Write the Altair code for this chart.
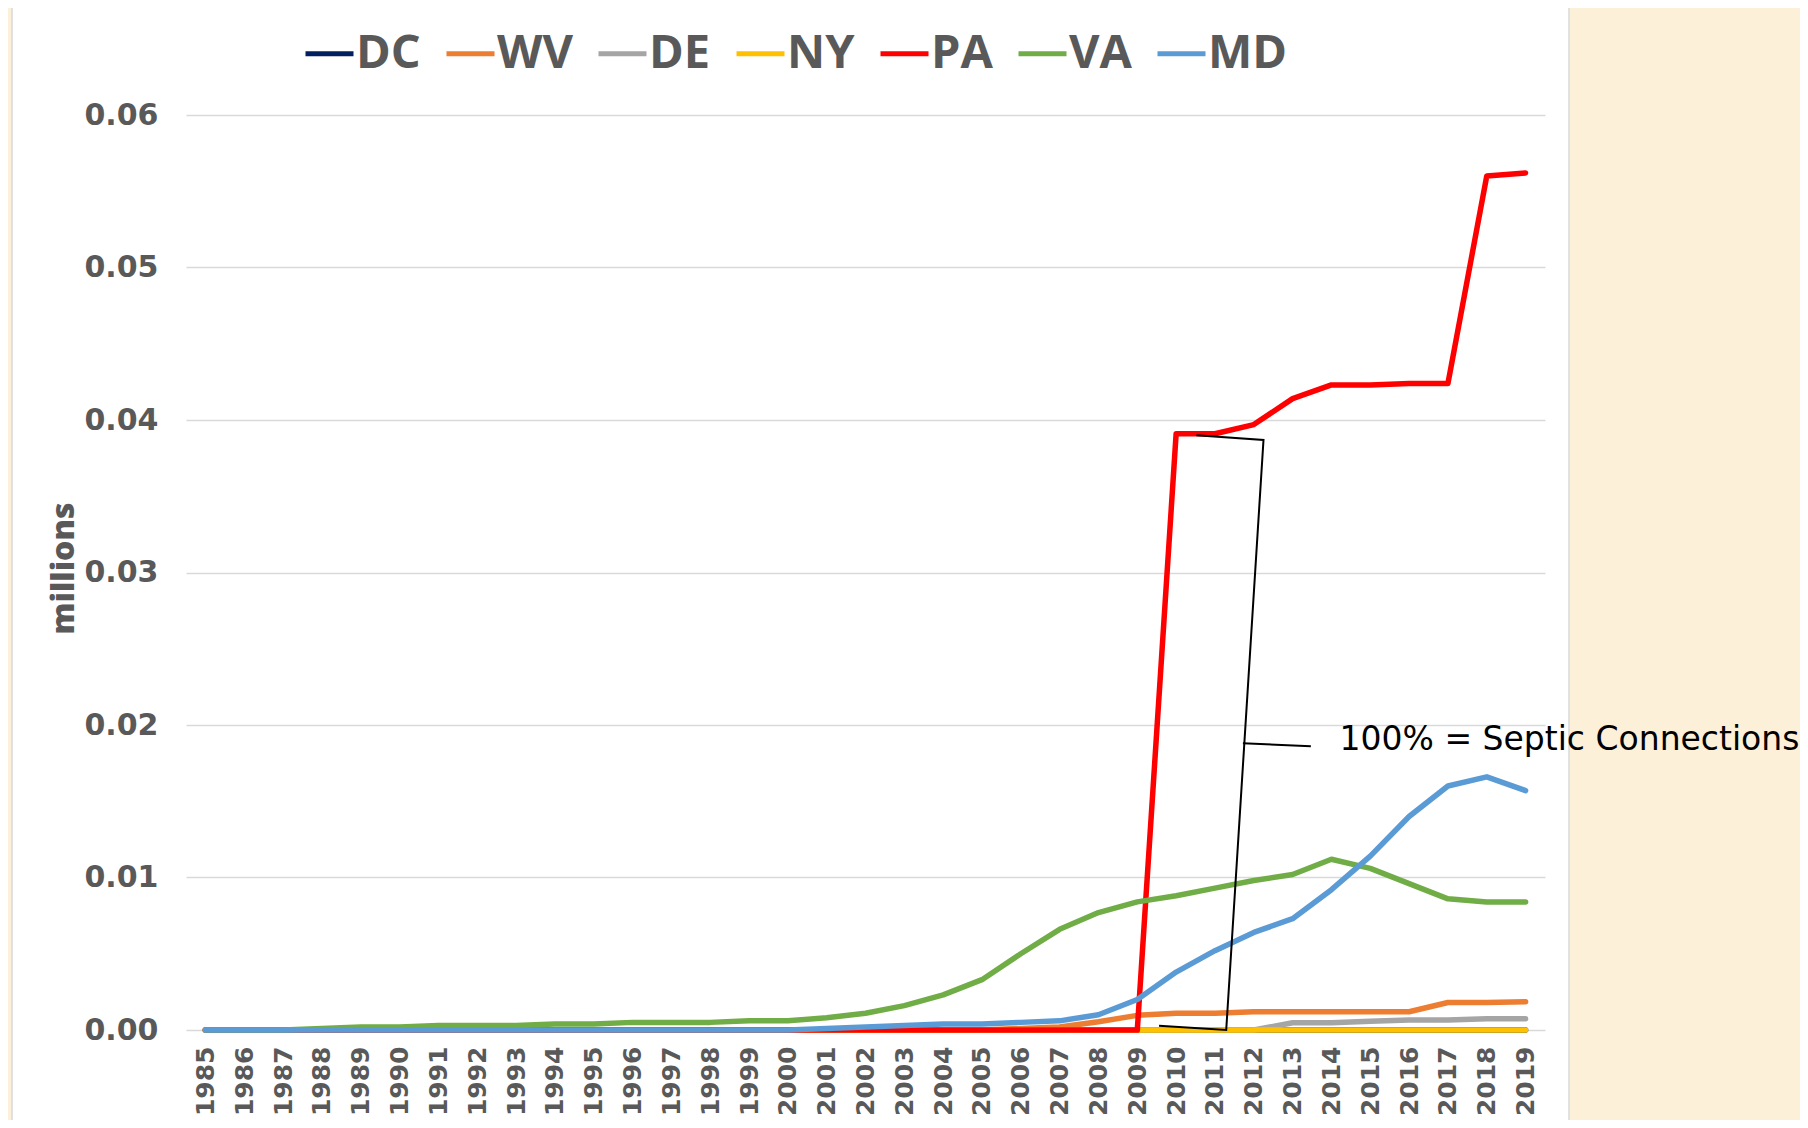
import altair as alt
import pandas as pd

# ---- data ----
years = [1985, 1986, 1987, 1988, 1989, 1990, 1991, 1992, 1993, 1994,
         1995, 1996, 1997, 1998, 1999, 2000, 2001, 2002, 2003, 2004,
         2005, 2006, 2007, 2008, 2009, 2010, 2011, 2012, 2013, 2014,
         2015, 2016, 2017, 2018, 2019]

series_names = ["DC", "WV", "DE", "NY", "PA", "VA", "MD"]
series_colors = ["#002060", "#ED7D31", "#A5A5A5", "#FFC000", "#FF0000", "#70AD47", "#5B9BD5"]

DC = [0, 0, 0, 0, 0, 0, 0, 0, 0, 0, 0, 0, 0, 0, 0, 0, 0, 0, 0, 0,
      0, 0, 0, 0, 0, 0, 0, 0, 0, 0, 0, 0, 0, 0, 0]
WV = [0, 0, 0, 0, 0, 0, 0, 0, 0, 0, 0, 0, 0, 0, 0, 0, 0, 0, 0, 0,
      0, 0.0001, 0.0002, 0.00054, 0.00096, 0.0011, 0.0011, 0.0012, 0.0012, 0.0012,
      0.0012, 0.0012, 0.0018, 0.0018, 0.00186]
DE = [0, 0, 0, 0, 0, 0, 0, 0, 0, 0, 0, 0, 0, 0, 0, 0, 0, 0, 0, 0,
      0, 0, 0, 0, 0, 0, 0, 0, 0.00048, 0.00048,
      0.00058, 0.00066, 0.00066, 0.00074, 0.00074]
NY = [0, 0, 0, 0, 0, 0, 0, 0, 0, 0, 0, 0, 0, 0, 0, 0, 0, 0, 0, 0,
      0, 0, 0, 0, 0, 0, 0, 0, 0, 0, 0, 0, 0, 0, 0]
PA = [0, 0, 0, 0, 0, 0, 0, 0, 0, 0, 0, 0, 0, 0, 0, 0, 0, 0, 0, 0,
      0, 0, 0, 0, 0, 0.0391, 0.0391, 0.0397, 0.0414, 0.0423,
      0.0423, 0.0424, 0.0424, 0.0560, 0.0562]
VA = [0, 0, 0, 0.0001, 0.0002, 0.0002, 0.0003, 0.0003, 0.0003, 0.0004,
      0.0004, 0.0005, 0.0005, 0.0005, 0.0006, 0.0006, 0.0008, 0.0011, 0.0016, 0.0023,
      0.0033, 0.0050, 0.0066, 0.0077, 0.0084, 0.0088, 0.0093, 0.0098, 0.0102, 0.0112,
      0.0106, 0.0096, 0.0086, 0.0084, 0.0084]
MD = [0, 0, 0, 0, 0, 0, 0, 0, 0, 0, 0, 0, 0, 0, 0, 0, 0.0001, 0.0002, 0.0003, 0.0004,
      0.0004, 0.0005, 0.0006, 0.0010, 0.0020, 0.0038, 0.0052, 0.0064, 0.0073, 0.0092,
      0.0114, 0.0140, 0.0160, 0.0166, 0.0157]

y_ticks = [0, 0.01, 0.02, 0.03, 0.04, 0.05, 0.06]

# callout bracket and leader (data coordinates)
bracket_x = [2009.56, 2011.29, 2012.25, 2010.52]
bracket_y = [0.00028, 0.0, 0.03869, 0.0390]
leader_x = [2011.72, 2013.47]
leader_y = [0.0188, 0.0186]
note_x = [2014.21]
note_y = [0.01836]
note_text = ["100% = Septic Connections"]

# ---- build tables ----
values = {"DC": DC, "WV": WV, "DE": DE, "NY": NY, "PA": PA, "VA": VA, "MD": MD}
rows = []
for s in series_names:
    for yr, v in zip(years, values[s]):
        rows.append({"state": s, "year": yr, "value": v})
df = pd.DataFrame(rows)

bracket_df = pd.DataFrame({"x": bracket_x, "y": bracket_y, "i": list(range(len(bracket_x)))})
leader_df = pd.DataFrame({"x": leader_x, "y": leader_y, "i": list(range(len(leader_x)))})
note_df = pd.DataFrame({"x": note_x, "y": note_y, "t": note_text})
strip_df = pd.DataFrame({"a": [0]})

W, H = 1359, 915
BEIGE = "#FCF0D9"
xscale = alt.Scale(domain=[1984.5, 2019.5], nice=False, zero=False)
yscale = alt.Scale(domain=[0, 0.06], nice=False)

# beige page strips outside the white chart panel
right_strip = alt.Chart(strip_df).mark_rect(fill=BEIGE, stroke="#D9D9D9", strokeWidth=1.5).encode(
    x=alt.value(1383), x2=alt.value(1700), y=alt.value(-140), y2=alt.value(1100)
)
left_strip = alt.Chart(strip_df).mark_rect(fill=BEIGE, stroke="#D9D9D9", strokeWidth=1.5).encode(
    x=alt.value(-220), x2=alt.value(-174), y=alt.value(-140), y2=alt.value(1100)
)

lines = alt.Chart(df).mark_line(strokeWidth=5.5, strokeCap="round", strokeJoin="round").encode(
    x=alt.X("year:Q", scale=xscale,
            axis=alt.Axis(values=years, format="d", title=None)),
    y=alt.Y("value:Q", scale=yscale,
            axis=alt.Axis(values=y_ticks, format=".2f", title="millions")),
    color=alt.Color("state:N", sort=series_names,
                    scale=alt.Scale(domain=series_names, range=series_colors),
                    legend=alt.Legend(title=None, orient="none", direction="horizontal",
                                      legendX=117, legendY=-88, symbolType="stroke",
                                      symbolSize=2304, symbolStrokeWidth=5,
                                      labelFont="Open Sans", labelFontSize=47,
                                      labelFontWeight="bold", labelColor="#595959",
                                      labelOffset=0, columnPadding=15, padding=0,
                                      labelLimit=300)),
)

bracket = alt.Chart(bracket_df).mark_line(color="black", strokeWidth=2).encode(
    x=alt.X("x:Q", scale=xscale, axis=alt.Axis(values=years, format="d", title=None)),
    y=alt.Y("y:Q", scale=yscale, axis=alt.Axis(values=y_ticks, format=".2f", title="millions")),
    order="i:Q"
)
leader = alt.Chart(leader_df).mark_line(color="black", strokeWidth=2).encode(
    x=alt.X("x:Q", scale=xscale, axis=alt.Axis(values=years, format="d", title=None)),
    y=alt.Y("y:Q", scale=yscale, axis=alt.Axis(values=y_ticks, format=".2f", title="millions")),
    order="i:Q"
)
note = alt.Chart(note_df).mark_text(align="left", baseline="alphabetic", font="DejaVu Sans",
                                    fontSize=33, color="black").encode(
    x=alt.X("x:Q", scale=xscale, axis=alt.Axis(values=years, format="d", title=None)),
    y=alt.Y("y:Q", scale=yscale, axis=alt.Axis(values=y_ticks, format=".2f", title="millions")),
    text="t:N"
)

chart = alt.layer(right_strip, left_strip, lines, bracket, leader, note).properties(
    width=W, height=H,
    background="white",
    autosize=alt.AutoSizeParams(type="none"),
    padding={"left": 178, "top": 107, "right": 255, "bottom": 90},
).configure_view(
    strokeWidth=0
).configure_axisX(
    grid=False, domain=False, ticks=False, labelAngle=-90, labelFont="DejaVu Sans",
    labelFontSize=25, labelFontWeight="bold", labelColor="#595959",
    labelPadding=16, labelOverlap=False, labelFlush=False, labelBound=False
).configure_axisY(
    domain=False, ticks=False, labelFont="DejaVu Sans", labelFontSize=30,
    labelFontWeight="bold", labelColor="#595959", labelPadding=28,
    gridColor="#D9D9D9", gridWidth=1.5,
    titleFont="Open Sans", titleFontSize=32, titleFontWeight=800,
    titleColor="#595959", titleAngle=270, titleX=-123, titleY=453,
    titleAlign="center", titleBaseline="middle", labelOverlap=False
)

chart.save("out.html", embed_options={"renderer": "svg", "actions": False})
